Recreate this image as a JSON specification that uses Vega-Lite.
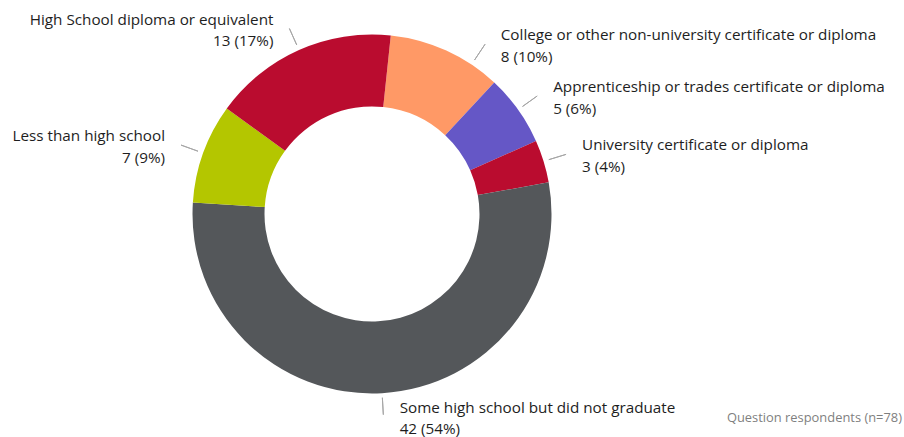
{
  "$schema": "https://vega.github.io/schema/vega-lite/v6.json",
  "width": 744,
  "height": 428,
  "autosize": {"type": "none"},
  "padding": {"left": 0, "top": 0, "right": 160, "bottom": 9},
  "background": "white",
  "config": {"view": {"stroke": null}},
  "title": {
    "text": "Question respondents (n=78)",
    "orient": "bottom",
    "anchor": "end",
    "frame": "group",
    "dx": 158,
    "offset": -15,
    "baseline": "alphabetic",
    "font": "Open Sans",
    "fontSize": 12.9,
    "fontWeight": "normal",
    "color": "#7f7f7f"
  },
  "data": {
    "values": [
      {"idx": 1, "category": "College or other non-university certificate or diploma", "count": 8, "pct": 10},
      {"idx": 2, "category": "Apprenticeship or trades certificate or diploma", "count": 5, "pct": 6},
      {"idx": 3, "category": "University certificate or diploma", "count": 3, "pct": 4},
      {"idx": 4, "category": "Some high school but did not graduate", "count": 42, "pct": 54},
      {"idx": 5, "category": "Less than high school", "count": 7, "pct": 9},
      {"idx": 6, "category": "High School diploma or equivalent", "count": 13, "pct": 17}
    ]
  },
  "transform": [
    {"window": [{"op": "sum", "field": "count", "as": "end"}], "sort": [{"field": "idx"}], "frame": [null, 0]},
    {"calculate": "datum.end - datum.count", "as": "start"},
    {"calculate": "datum.end - datum.count / 2", "as": "mid"},
    {"calculate": "datum.category + '\\n' + datum.count + ' (' + datum.pct + '%)'", "as": "label"}
  ],
  "layer": [
    {
      "mark": {"type": "arc", "innerRadius": 107.5, "outerRadius": 179.5},
      "encoding": {
        "theta": {"field": "start", "type": "quantitative", "stack": null, "scale": {"domain": [0, 78], "range": [0.1047, 6.3879]}},
        "theta2": {"field": "end"},
        "color": {
          "field": "category",
          "type": "nominal",
          "legend": null,
          "scale": {
            "domain": [
              "College or other non-university certificate or diploma",
              "Apprenticeship or trades certificate or diploma",
              "University certificate or diploma",
              "Some high school but did not graduate",
              "Less than high school",
              "High School diploma or equivalent"
            ],
            "range": ["#ff9966", "#6557c6", "#ba0c2f", "#54575a", "#b4c600", "#ba0c2f"]
          }
        }
      }
    },
    {
      "transform": [{"filter": "indexof([2,3,5,6], datum.idx) >= 0"}],
      "mark": {"type": "arc", "innerRadius": 185, "outerRadius": 203, "stroke": "#a6a6a6", "strokeWidth": 1, "fill": null},
      "encoding": {
        "theta": {"field": "mid", "type": "quantitative", "stack": null, "scale": {"domain": [0, 78], "range": [0.1047, 6.3879]}},
        "theta2": {"field": "mid"}
      }
    },
    {
      "transform": [{"filter": "datum.idx == 1"}],
      "mark": {"type": "arc", "innerRadius": 185, "outerRadius": 204, "stroke": "#a6a6a6", "strokeWidth": 1, "fill": null, "thetaOffset": 0.1606, "theta2Offset": 0.1606},
      "encoding": {
        "theta": {"field": "mid", "type": "quantitative", "stack": null, "scale": {"domain": [0, 78], "range": [0.1047, 6.3879]}},
        "theta2": {"field": "mid"}
      }
    },
    {
      "transform": [{"filter": "datum.idx == 4"}],
      "mark": {"type": "arc", "innerRadius": 184, "outerRadius": 201, "stroke": "#a6a6a6", "strokeWidth": 1, "fill": null},
      "encoding": {
        "theta": {"field": "mid", "type": "quantitative", "stack": null, "scale": {"domain": [0, 78], "range": [0.1047, 6.3879]}},
        "theta2": {"field": "mid"}
      }
    },
    {
      "transform": [{"filter": "datum.idx == 5 || datum.idx == 6"}],
      "mark": {"type": "text", "radius": 203, "align": "right", "baseline": "middle", "dx": -16, "dy": -9, "lineBreak": "\n", "lineHeight": 21.5, "font": "Open Sans", "fontSize": 15.25, "color": "#1e1e1e"},
      "encoding": {
        "theta": {"field": "mid", "type": "quantitative", "stack": null, "scale": {"domain": [0, 78], "range": [0.1047, 6.3879]}},
        "text": {"field": "label"}
      }
    },
    {
      "transform": [{"filter": "datum.idx == 2 || datum.idx == 3"}],
      "mark": {"type": "text", "radius": 203, "align": "left", "baseline": "middle", "dx": 16, "dy": -9, "lineBreak": "\n", "lineHeight": 21.5, "font": "Open Sans", "fontSize": 15.25, "color": "#1e1e1e"},
      "encoding": {
        "theta": {"field": "mid", "type": "quantitative", "stack": null, "scale": {"domain": [0, 78], "range": [0.1047, 6.3879]}},
        "text": {"field": "label"}
      }
    },
    {
      "transform": [{"filter": "datum.idx == 1"}],
      "mark": {"type": "text", "radius": 203, "align": "left", "baseline": "middle", "dx": 44.7, "dy": 6, "lineBreak": "\n", "lineHeight": 21.5, "font": "Open Sans", "fontSize": 15.25, "color": "#1e1e1e"},
      "encoding": {
        "theta": {"field": "mid", "type": "quantitative", "stack": null, "scale": {"domain": [0, 78], "range": [0.1047, 6.3879]}},
        "text": {"field": "label"}
      }
    },
    {
      "transform": [{"filter": "datum.idx == 4"}],
      "mark": {"type": "text", "radius": 189, "align": "left", "baseline": "middle", "dx": 17, "dy": 5, "lineBreak": "\n", "lineHeight": 21, "font": "Open Sans", "fontSize": 15.25, "color": "#1e1e1e"},
      "encoding": {
        "theta": {"field": "mid", "type": "quantitative", "stack": null, "scale": {"domain": [0, 78], "range": [0.1047, 6.3879]}},
        "text": {"field": "label"}
      }
    }
  ]
}
